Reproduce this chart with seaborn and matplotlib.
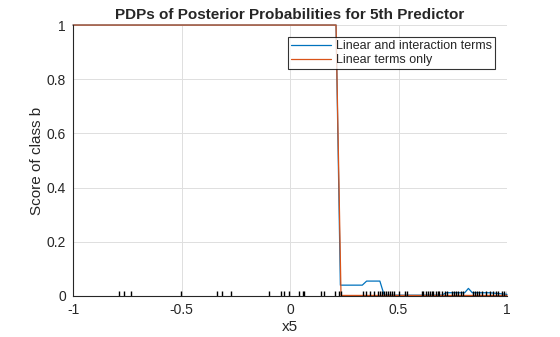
import matplotlib
matplotlib.use("Agg")
import matplotlib.pyplot as plt
import seaborn as sns
import pandas as pd

# Partial dependence curves (grid breakpoints of x5 and predicted score)
x_interaction = [-1.0, 0.212, 0.232, 0.333, 0.353, 0.414, 0.434, 0.700, 0.720,
                 0.805, 0.822, 0.840, 0.920, 1.0]
y_interaction = [1.0, 1.0, 0.040, 0.040, 0.055, 0.055, 0.003, 0.003, 0.012,
                 0.012, 0.028, 0.012, 0.012, 0.006]

x_linear = [-1.0, 0.212, 0.235, 1.0]
y_linear = [1.0, 1.0, 0.002, 0.002]

# Observed x5 values shown as a rug along the bottom
x5_obs = [-0.788, -0.764, -0.733, -0.504, -0.338, -0.315, -0.273, -0.097, -0.043,
          -0.028, -0.003, 0.040, 0.061, 0.065, 0.141, 0.157, 0.209, 0.226, 0.236,
          0.337, 0.350, 0.369, 0.387, 0.406, 0.415, 0.424, 0.433, 0.442, 0.451,
          0.461, 0.470, 0.479, 0.501, 0.532, 0.541, 0.606, 0.615, 0.625, 0.634,
          0.643, 0.652, 0.661, 0.672, 0.680, 0.686, 0.700, 0.712, 0.723, 0.745,
          0.756, 0.765, 0.776, 0.788, 0.797, 0.843, 0.852, 0.862, 0.873, 0.885,
          0.905, 0.922, 0.935, 0.948, 0.960, 0.975, 0.985, 1.0]

xticks = [-1, -0.5, 0, 0.5, 1]
xtick_labels = ["-1", "-0.5", "0", "0.5", "1"]
yticks = [0, 0.2, 0.4, 0.6, 0.8, 1]
ytick_labels = ["0", "0.2", "0.4", "0.6", "0.8", "1"]

sns.set_style("white")
plt.rcParams["font.family"] = ["Liberation Sans", "DejaVu Sans"]

fig = plt.figure(figsize=(5.6, 3.37), dpi=100)
ax = fig.add_axes([0.1304, 0.1217, 0.775, 0.804])

df_int = pd.DataFrame({"x5": x_interaction, "score": y_interaction})
df_lin = pd.DataFrame({"x5": x_linear, "score": y_linear})

sns.lineplot(data=df_int, x="x5", y="score", ax=ax, color="#0072BD", lw=0.9,
             label="Linear and interaction terms", estimator=None, sort=False)
sns.lineplot(data=df_lin, x="x5", y="score", ax=ax, color="#D95319", lw=0.9,
             label="Linear terms only", estimator=None, sort=False)
for line in ax.get_lines():
    line.set_clip_on(False)
sns.rugplot(x=x5_obs, ax=ax, height=0.02, color="black", lw=0.8)

ax.set_xlim(-1, 1)
ax.set_ylim(0, 1)
ax.set_xticks(xticks)
ax.set_xticklabels(xtick_labels)
ax.set_yticks(yticks)
ax.set_yticklabels(ytick_labels)
ax.tick_params(axis="both", labelsize=10, colors="#262626", direction="in",
               length=0, pad=5)
ax.grid(True, color="#dfdfdf", lw=0.7)
ax.set_axisbelow(True)
for side in ["top", "right"]:
    ax.spines[side].set_visible(False)
for side in ["left", "bottom"]:
    ax.spines[side].set_color("#262626")
    ax.spines[side].set_linewidth(0.8)

ax.set_xlabel("x5", fontsize=11, color="#262626", labelpad=2)
ax.set_ylabel("Score of class b", fontsize=11, color="#262626", labelpad=2)
ax.set_title("PDPs of Posterior Probabilities for 5th Predictor",
             fontsize=11, fontweight="bold", color="#262626", pad=4)

leg = ax.legend(loc="upper right", bbox_to_anchor=(0.972, 0.955), fontsize=9,
                frameon=True, fancybox=False, handlelength=3.2, borderpad=0.25,
                labelspacing=0.15, handletextpad=0.4, borderaxespad=0)
leg.get_frame().set_edgecolor("black")
leg.get_frame().set_linewidth(0.8)
for line in leg.get_lines():
    line.set_linewidth(0.9)

fig.savefig("out.png", dpi=100)
